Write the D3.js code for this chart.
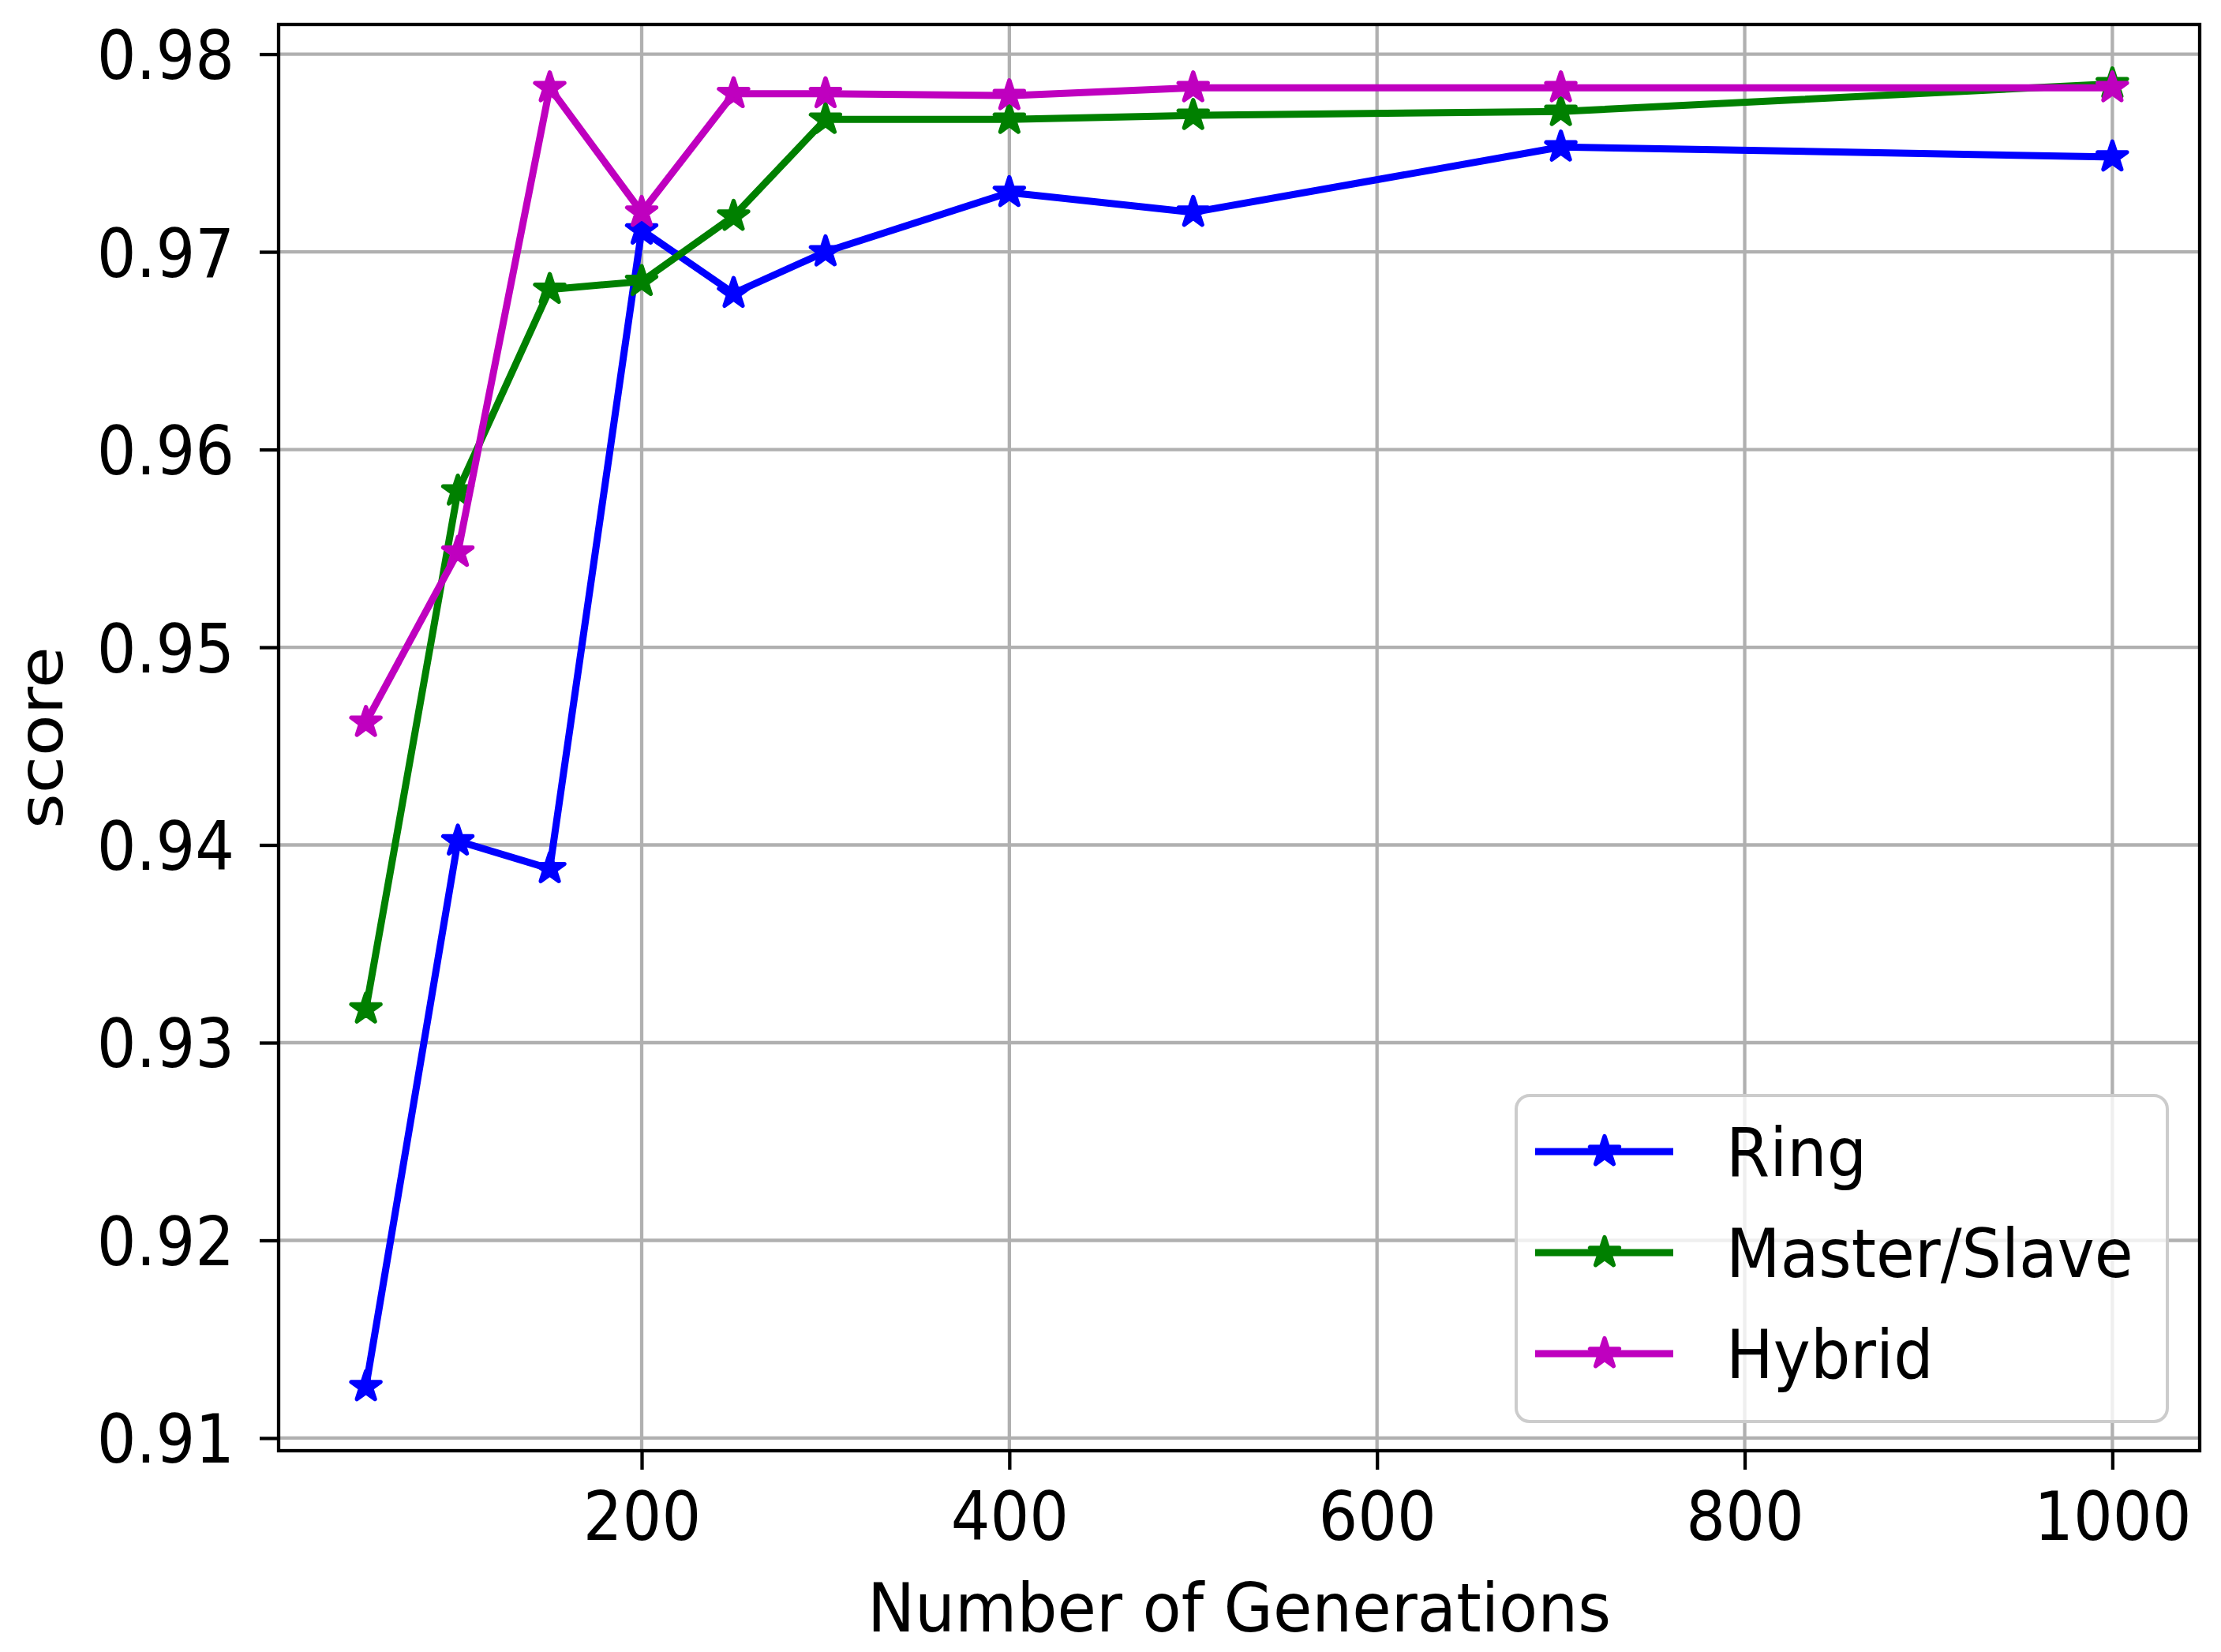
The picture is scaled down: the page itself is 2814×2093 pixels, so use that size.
<!DOCTYPE html>
<html>
<head>
<meta charset="utf-8">
<script src="https://cdn.jsdelivr.net/npm/d3@7"></script>
<style>
  body { margin: 0; background: #fff; }
  text { font-family: "DejaVu Sans", sans-serif; fill: #000; }
</style>
</head>
<body>
<div id="chart"></div>
<script>
// generations on the x axis
const generations = [50, 100, 150, 200, 250, 300, 400, 500, 700, 1000]

// score per topology
const ring = [0.9126, 0.9402, 0.9388, 0.9711, 0.9679, 0.9700, 0.9730, 0.9720, 0.9753, 0.9748]
const masterSlave = [0.9317, 0.9579, 0.9681, 0.9685, 0.9718, 0.9767, 0.9767, 0.9769, 0.9771, 0.9785]
const hybrid = [0.9462, 0.9548, 0.9783, 0.9720, 0.9780, 0.9780, 0.9779, 0.9783, 0.9783, 0.9783]

const seriesNames = ['Ring', 'Master/Slave', 'Hybrid']
const seriesColors = ['#0000ff', '#008000', '#bf00bf']

const xTicks = [200, 400, 600, 800, 1000]
const yTicks = [0.91, 0.92, 0.93, 0.94, 0.95, 0.96, 0.97, 0.98]

const W = 2814, H = 2093
const m = {left: 353, right: 27, top: 31, bottom: 255}
const fs = 86        // font size
const sx = 0.91      // horizontal squash of the text in the picture
const tickLen = 24
const starR = 19.5

let svg = d3.select('#chart').append('svg')
	.attr('width', W)
	.attr('height', H)

svg.append('rect').attr('width', W).attr('height', H).attr('fill', '#fff')

let x = d3.scaleLinear()
	.domain([2.5, 1047.5])
	.range([m.left, W - m.right])

let y = d3.scaleLinear()
	.domain([0.90936, 0.9815])
	.range([H - m.bottom, m.top])

//grid
let grid = svg.append('g').attr('class', 'grid')
grid.selectAll('.vgrid').data(xTicks).join('line')
	.attr('x1', d => x(d)).attr('x2', d => x(d))
	.attr('y1', y.range()[0]).attr('y2', y.range()[1])
	.attr('stroke', '#b0b0b0').attr('stroke-width', 4.3)
grid.selectAll('.hgrid').data(yTicks).join('line')
	.attr('x1', x.range()[0]).attr('x2', x.range()[1])
	.attr('y1', d => y(d)).attr('y2', d => y(d))
	.attr('stroke', '#b0b0b0').attr('stroke-width', 4.3)

//axes
let xAxis = svg.append('g')
	.attr('transform', `translate(0,${H - m.bottom})`)
	.call(d3.axisBottom(x).tickValues(xTicks).tickSize(tickLen).tickFormat(d3.format('d')))
let yAxis = svg.append('g')
	.attr('transform', `translate(${m.left},0)`)
	.call(d3.axisLeft(y).tickValues(yTicks).tickSize(tickLen).tickFormat(d3.format('.2f')))

;[xAxis, yAxis].forEach(a => {
	a.select('.domain').remove()
	a.selectAll('.tick line').attr('stroke', '#000').attr('stroke-width', 4.3)
	a.selectAll('.tick text').attr('font-size', fs).attr('font-family', '"DejaVu Sans", sans-serif').attr('dy', null)
})
xAxis.selectAll('.tick text')
	.attr('y', null)
	.attr('text-anchor', 'middle')
	.attr('transform', `translate(0,113) scale(${sx},1)`)
yAxis.selectAll('.tick text')
	.attr('x', null)
	.attr('text-anchor', 'end')
	.attr('transform', `translate(-56,31) scale(${sx},1)`)

//lines + star markers
const starPath = (R) => {
	let pts = []
	for (let i = 0; i < 10; i++) {
		let r = i % 2 == 0 ? R : R * 0.381966
		let a = -Math.PI / 2 + i * Math.PI / 5
		pts.push([r * Math.cos(a), r * Math.sin(a)])
	}
	return 'M' + pts.map(p => p.join(',')).join('L') + 'Z'
}

let allSeries = [ring, masterSlave, hybrid]
let lineGen = d3.line()
	.x((d, i) => x(generations[i]))
	.y(d => y(d))

let plotG = svg.append('g')
allSeries.forEach((vals, si) => {
	let g = plotG.append('g')
	g.append('path')
		.attr('d', lineGen(vals))
		.attr('fill', 'none')
		.attr('stroke', seriesColors[si])
		.attr('stroke-width', 9)
		.attr('stroke-linejoin', 'round')
		.attr('stroke-linecap', 'square')
	g.selectAll('.star').data(vals).join('path')
		.attr('class', 'star')
		.attr('d', starPath(starR))
		.attr('transform', (d, i) => `translate(${x(generations[i])},${y(d)})`)
		.attr('fill', seriesColors[si])
		.attr('stroke', seriesColors[si])
		.attr('stroke-width', 5.3)
		.attr('stroke-linejoin', 'round')
})

//frame
svg.append('rect')
	.attr('x', m.left).attr('y', m.top)
	.attr('width', W - m.left - m.right)
	.attr('height', H - m.top - m.bottom)
	.attr('fill', 'none')
	.attr('stroke', '#000')
	.attr('stroke-width', 4.3)

//axis labels
svg.append('text')
	.attr('text-anchor', 'middle')
	.attr('font-size', fs)
	.attr('transform', `translate(${(m.left + W - m.right) / 2},2067) scale(0.935,1)`)
	.text('Number of Generations')

svg.append('text')
	.attr('text-anchor', 'middle')
	.attr('font-size', fs)
	.attr('transform', `translate(79,${(m.top + H - m.bottom) / 2}) rotate(-90) scale(1,${sx})`)
	.text('score')

//legend
let legend = svg.append('g').attr('transform', 'translate(1921,1388)')
legend.append('rect')
	.attr('width', 825).attr('height', 413)
	.attr('rx', 17).attr('ry', 17)
	.attr('fill', '#fff').attr('fill-opacity', 0.8)
	.attr('stroke', '#cccccc').attr('stroke-width', 4)

let rows = legend.selectAll('.legendRow').data(seriesNames).join('g')
	.attr('class', 'legendRow')
	.attr('transform', (d, i) => `translate(0,${71 + i * 128})`)
rows.append('line')
	.attr('x1', 24).attr('x2', 199)
	.attr('stroke', (d, i) => seriesColors[i])
	.attr('stroke-width', 9)
rows.append('path')
	.attr('d', starPath(starR))
	.attr('transform', 'translate(112,0)')
	.attr('fill', (d, i) => seriesColors[i])
	.attr('stroke', (d, i) => seriesColors[i])
	.attr('stroke-width', 5.3)
	.attr('stroke-linejoin', 'round')
rows.append('text')
	.attr('font-size', fs)
	.attr('transform', `translate(266,31) scale(0.925,1)`)
	.text(d => d)
</script>
</body>
</html>
